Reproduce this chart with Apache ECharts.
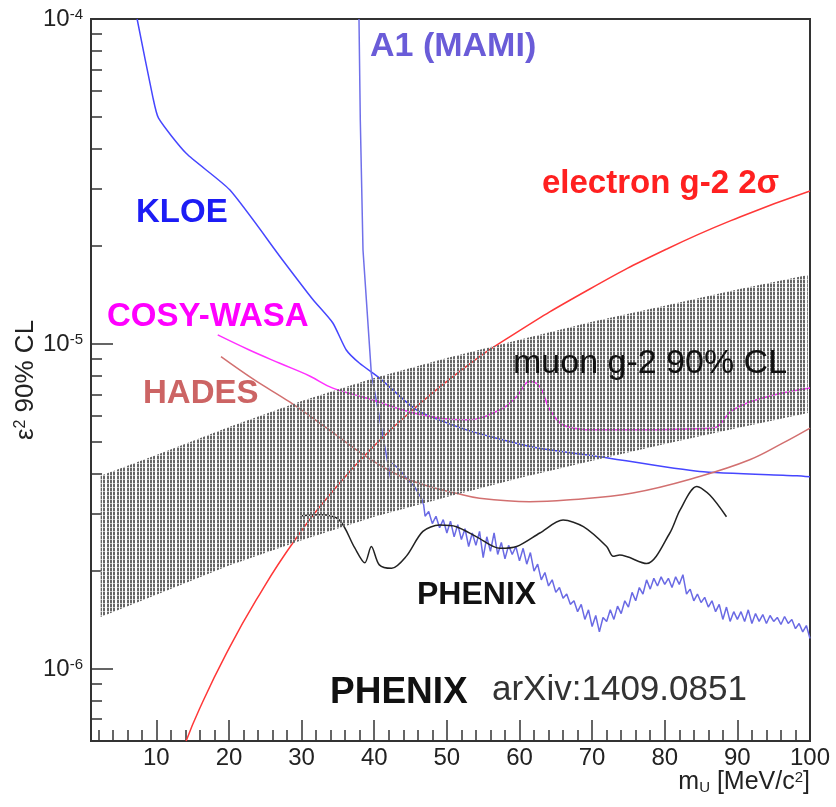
<!DOCTYPE html>
<html><head><meta charset="utf-8">
<script src="https://cdn.jsdelivr.net/npm/echarts@6/dist/echarts.min.js"></script>
<style>html,body{margin:0;padding:0;background:#fff}#c{width:836px;height:807px}</style>
</head><body><div id="c"></div>
<script>
// ---------- axis ticks ----------
const xTickLabels = [10, 20, 30, 40, 50, 60, 70, 80, 90, 100];
const xMinorTicks = [2,4,6,8,12,14,16,18,22,24,26,28,32,34,36,38,42,44,46,48,52,54,56,58,62,64,66,68,72,74,76,78,82,84,86,88,92,94,96,98];
const yTickValues = [1e-6, 1e-5, 1e-4];
const yMinorTicks = [7e-7,8e-7,9e-7,2e-6,3e-6,4e-6,5e-6,6e-6,7e-6,8e-6,9e-6,2e-5,3e-5,4e-5,5e-5,6e-5,7e-5,8e-5,9e-5];

// ---------- curves [mU, eps^2] ----------
const kloe = [[7.35,1.0e-4],[9.5,5.77e-5],[10.3,4.95e-5],[14.1,3.86e-5],[20.1,2.98e-5],[27.4,1.81e-5],[31.55,1.37e-5],[34.3,1.16e-5],[36.15,9.58e-6],[37.98,8.72e-6],[40.74,7.85e-6],[45.8,6.27e-6],[52.7,5.44e-6],[61.8,4.82e-6],[71.05,4.50e-6],[84.8,4.05e-6],[98.2,3.93e-6],[100,3.90e-6]];

const a1Steep = [[37.9,1.0e-4],[38.08,4.89e-5],[38.45,1.95e-5],[39.6,8.12e-6],[42.35,3.76e-6]];

const a1Scan = [[42.5,4.30e-6],[43.5,4.10e-6],[44.5,3.85e-6],[45.5,3.65e-6],[46.5,3.35e-6],[46.8,3.20e-6],
[47.0,2.95e-6],[47.5,3.05e-6],[48.0,2.80e-6],[48.5,2.95e-6],[49.0,2.72e-6],[49.5,2.88e-6],[50.0,2.62e-6],[50.5,2.85e-6],
[51.0,2.55e-6],[51.5,2.78e-6],[52.0,2.50e-6],[52.5,2.70e-6],[53.0,2.38e-6],[53.5,2.62e-6],[54.0,2.40e-6],[54.5,2.65e-6],
[55.0,2.20e-6],[55.5,2.55e-6],[56.0,2.30e-6],[56.5,2.62e-6],[57.0,2.25e-6],[57.5,2.45e-6],[58.0,2.18e-6],[58.5,2.40e-6],
[59.0,2.25e-6],[59.5,2.38e-6],[60.0,2.15e-6],[60.5,2.35e-6],[61.0,2.10e-6],[61.5,2.28e-6],[62.0,2.00e-6],[62.5,2.10e-6],
[63.0,1.88e-6],[63.5,1.98e-6],[64.0,1.80e-6],[64.5,1.88e-6],[65.0,1.72e-6],[65.5,1.78e-6],[66.0,1.65e-6],[66.5,1.70e-6],
[67.0,1.58e-6],[67.5,1.62e-6],[68.0,1.50e-6],[68.5,1.58e-6],[69.0,1.42e-6],[69.5,1.52e-6],[70.0,1.35e-6],[70.5,1.46e-6],
[71.0,1.30e-6],[71.5,1.44e-6],[72.0,1.40e-6],[72.5,1.52e-6],[73.0,1.42e-6],[73.5,1.56e-6],[74.0,1.48e-6],[74.5,1.62e-6],
[75.0,1.55e-6],[75.5,1.72e-6],[76.0,1.62e-6],[76.5,1.78e-6],[77.0,1.70e-6],[77.5,1.88e-6],[78.0,1.76e-6],[78.5,1.90e-6],
[79.0,1.80e-6],[79.5,1.92e-6],[80.0,1.82e-6],[80.5,1.90e-6],[81.0,1.78e-6],[81.5,1.92e-6],[82.0,1.82e-6],[82.5,1.95e-6],
[83.0,1.70e-6],[83.5,1.76e-6],[84.0,1.62e-6],[84.5,1.70e-6],[85.0,1.60e-6],[85.5,1.66e-6],[86.0,1.55e-6],[86.5,1.62e-6],
[87.0,1.50e-6],[87.5,1.58e-6],[88.0,1.42e-6],[88.5,1.55e-6],[89.0,1.40e-6],[89.5,1.50e-6],[90.0,1.42e-6],[90.5,1.50e-6],
[91.0,1.40e-6],[91.5,1.52e-6],[92.0,1.38e-6],[92.5,1.48e-6],[93.0,1.40e-6],[93.5,1.47e-6],[94.0,1.38e-6],[94.5,1.46e-6],
[95.0,1.40e-6],[95.5,1.44e-6],[96.0,1.37e-6],[96.5,1.45e-6],[97.0,1.38e-6],[97.5,1.42e-6],[98.0,1.33e-6],[98.5,1.38e-6],
[99.0,1.30e-6],[99.5,1.36e-6],[100.0,1.24e-6]];

const electronG2 = [[14.1,6.0e-7],[15.93,7.53e-7],[19.61,1.112e-6],[23.75,1.63e-6],[28.98,2.476e-6],[34.95,3.667e-6],[40.28,4.93e-6],[45.29,6.265e-6],[51.76,8.23e-6],[58.2,1.036e-5],[69.68,1.476e-5],[80.29,1.96e-5],[90.35,2.459e-5],[100,2.957e-5]];

const cosyWasa = [[18.45,1.066e-5],[22.8,9.58e-6],[27.0,8.72e-6],[31.1,7.97e-6],[34.3,7.31e-6],[38.9,6.82e-6],[46.0,6.09e-6],[52.7,5.84e-6],[57.3,6.27e-6],[59.6,6.88e-6],[61.4,7.66e-6],[62.8,7.39e-6],[64.2,6.27e-6],[66.5,5.57e-6],[71.1,5.44e-6],[75.6,5.44e-6],[86.6,5.51e-6],[89.4,6.27e-6],[94.0,6.87e-6],[100,7.32e-6]];

const hades = [[18.9,9.14e-6],[23.5,7.75e-6],[28.3,6.64e-6],[33.8,5.44e-6],[38.9,4.50e-6],[43.5,3.93e-6],[47.6,3.64e-6],[51.3,3.47e-6],[54.5,3.35e-6],[61.4,3.27e-6],[66.5,3.31e-6],[75.6,3.48e-6],[84.8,3.91e-6],[91.7,4.40e-6],[96.3,4.96e-6],[100,5.51e-6]];

const phenix = [[30.0,2.96e-6],[32.5,2.98e-6],[35.2,2.87e-6],[37.3,2.36e-6],[38.7,2.12e-6],[39.6,2.38e-6],[40.7,2.09e-6],[42.4,2.04e-6],[44.4,2.22e-6],[46.7,2.65e-6],[49.0,2.77e-6],[51.3,2.74e-6],[54.1,2.55e-6],[57.3,2.35e-6],[59.6,2.38e-6],[62.8,2.62e-6],[66.0,2.87e-6],[68.8,2.74e-6],[72.0,2.38e-6],[72.9,2.22e-6],[73.8,2.24e-6],[77.5,2.11e-6],[80.7,2.62e-6],[82.1,3.08e-6],[84.4,3.64e-6],[86.2,3.43e-6],[88.5,2.94e-6]];

// muon g-2 90% CL band
const muonBandX    = [2.33, 10, 20, 30, 40, 50, 60, 70, 80, 90, 99.7];
const muonBandLow  = [1.445e-6,1.69e-6,2.08e-6,2.49e-6,2.94e-6,3.38e-6,3.87e-6,4.37e-6,4.92e-6,5.51e-6,6.13e-6];
const muonBandHigh = [3.93e-6,4.55e-6,5.55e-6,6.68e-6,7.86e-6,9.06e-6,1.03e-5,1.17e-5,1.31e-5,1.47e-5,1.63e-5];

// ---------- rendering ----------
const FONT = '"Liberation Sans", Arial, Helvetica, sans-serif';
function makeHatch() {
  const c = document.createElement('canvas');
  c.width = 10; c.height = 4;
  const ctx = c.getContext('2d');
  ctx.fillStyle = '#666666';
  [0, 3, 7].forEach(x0 => ctx.fillRect(x0, 0, 2, 3));
  ctx.fillStyle = '#bdbdbd';
  [0, 3, 7].forEach(x0 => ctx.fillRect(x0, 3, 2, 1));
  return c;
}
const hatch = makeHatch();

const chart = echarts.init(document.getElementById('c'), null, {renderer: 'canvas'});
const tickStyle = {color: '#333', width: 1.5};
const lineSeries = (name, data, color, width, smooth) => ({
  name, type: 'line', data, symbol: 'none', smooth: smooth,
  lineStyle: {color, width}, itemStyle: {color}, z: 2, clip: true, silent: true
});

chart.setOption({
  animation: false,
  backgroundColor: '#fff',
  textStyle: {fontFamily: FONT},
  grid: {left: 91, right: 26, top: 19, bottom: 66, show: true, borderColor: '#333', borderWidth: 2, backgroundColor: 'transparent'},
  xAxis: [{
    type: 'value', min: 1, max: 100, position: 'bottom',
    axisLine: {show: true, onZero: false, lineStyle: {color: '#333', width: 2}},
    splitLine: {show: false},
    axisTick: {show: true, inside: true, length: 21, customValues: xTickLabels, lineStyle: tickStyle},
    axisLabel: {customValues: xTickLabels, fontSize: 24, color: '#222', margin: 5, fontFamily: FONT},
    name: 'm{sub|U} [MeV/c{sup|2}]', nameLocation: 'end', nameGap: 0, nameMoveOverlap: false,
    nameTextStyle: {fontSize: 25, color: '#222', fontFamily: FONT, align: 'right', verticalAlign: 'top', padding: [29, 0, 0, 0],
      rich: {sub: {fontSize: 15, verticalAlign: 'bottom', fontFamily: FONT, color: '#222'}, sup: {fontSize: 15, verticalAlign: 'top', fontFamily: FONT, color: '#222'}}}
  }, {
    type: 'value', min: 1, max: 100, position: 'bottom',
    axisLine: {show: false, onZero: false}, splitLine: {show: false}, axisLabel: {show: false},
    axisTick: {show: true, inside: true, length: 11, customValues: xMinorTicks, lineStyle: tickStyle}
  }],
  yAxis: [{
    type: 'log', logBase: 10, min: 6e-7, max: 1e-4, position: 'left',
    axisLine: {show: true, onZero: false, lineStyle: {color: '#333', width: 2}},
    splitLine: {show: false},
    axisTick: {show: true, inside: true, length: 22, customValues: yTickValues, lineStyle: tickStyle},
    axisLabel: {customValues: yTickValues, margin: 8, color: '#222', fontFamily: FONT,
      formatter: v => '{b|10}{s|' + Math.round(Math.log10(v)) + '}',
      rich: {b: {fontSize: 24, lineHeight: 24, fontFamily: FONT, color: '#222'}, s: {fontSize: 15, lineHeight: 15, verticalAlign: 'top', fontFamily: FONT, color: '#222'}}},
    name: 'ε{s|2} 90% CL', nameLocation: 'middle', nameRotate: 90, nameGap: 65, nameMoveOverlap: false,
    nameTextStyle: {fontSize: 26, color: '#222', fontFamily: FONT, verticalAlign: 'middle',
      rich: {s: {fontSize: 16, verticalAlign: 'top', fontFamily: FONT, color: '#222'}}}
  }, {
    type: 'log', logBase: 10, min: 6e-7, max: 1e-4, position: 'left',
    axisLine: {show: false, onZero: false}, splitLine: {show: false}, axisLabel: {show: false},
    axisTick: {show: true, inside: true, length: 11, customValues: yMinorTicks, lineStyle: tickStyle}
  }],
  series: [
    lineSeries('KLOE', kloe, '#4646ff', 1.5, 0.2),
    lineSeries('A1 (MAMI)', a1Steep, '#7070ea', 1.5, false),
    lineSeries('A1 (MAMI) scan', a1Scan, '#6a6ae4', 1.5, false),
    lineSeries('electron g-2 2σ', electronG2, '#ff3838', 1.5, 0.5),
    lineSeries('COSY-WASA', cosyWasa, '#ff30ff', 1.5, 0.4),
    lineSeries('HADES', hades, '#d27070', 1.5, 0.4),
    lineSeries('PHENIX', phenix, '#222', 1.5, 0.3),
    {
      name: 'muon g-2 90% CL', type: 'custom', coordinateSystem: 'cartesian2d', xAxisIndex: 0, yAxisIndex: 0,
      data: muonBandX.map((x, i) => [x, muonBandLow[i], muonBandHigh[i]]),
      encode: {x: 0, y: [1, 2]}, z: 4, silent: true,
      renderItem: (params, api) => {
        if (params.dataIndex !== 0) return null;
        const pts = [];
        for (let i = 0; i < muonBandX.length; i++) pts.push(api.coord([muonBandX[i], muonBandHigh[i]]));
        for (let i = muonBandX.length - 1; i >= 0; i--) pts.push(api.coord([muonBandX[i], muonBandLow[i]]));
        return {type: 'polygon', shape: {points: pts}, style: {fill: {image: hatch, repeat: 'repeat'}, stroke: null}};
      }
    }
  ],
  graphic: [
    {type: 'text', x: 370, y: 47, z: 20, style: {text: 'A1 (MAMI)', font: 'bold 34px ' + FONT, fill: '#6a5cd8', align: 'left', verticalAlign: 'middle'}},
    {type: 'text', x: 136, y: 213, z: 20, style: {text: 'KLOE', font: 'bold 33px ' + FONT, fill: '#1c1cf5', align: 'left', verticalAlign: 'middle'}},
    {type: 'text', x: 542, y: 184, z: 20, style: {text: 'electron g-2 2σ', font: 'bold 33px ' + FONT, fill: '#ff2020', align: 'left', verticalAlign: 'middle'}},
    {type: 'text', x: 107, y: 317, z: 20, style: {text: 'COSY-WASA', font: 'bold 33px ' + FONT, fill: '#ff00ff', align: 'left', verticalAlign: 'middle'}},
    {type: 'text', x: 143, y: 394, z: 20, style: {text: 'HADES', font: 'bold 33px ' + FONT, fill: '#cc6464', align: 'left', verticalAlign: 'middle'}},
    {type: 'text', x: 513, y: 364, z: 20, style: {text: 'muon g-2 90% CL', font: '34px ' + FONT, fill: '#111', align: 'left', verticalAlign: 'middle'}},
    {type: 'text', x: 417, y: 595, z: 20, style: {text: 'PHENIX', font: 'bold 32px ' + FONT, fill: '#111', align: 'left', verticalAlign: 'middle'}},
    {type: 'text', x: 330, y: 693, z: 20, style: {text: 'PHENIX', font: 'bold 37px ' + FONT, fill: '#111', align: 'left', verticalAlign: 'middle'}},
    {type: 'text', x: 492, y: 690, z: 20, style: {text: 'arXiv:1409.0851', font: '35px ' + FONT, fill: '#333', align: 'left', verticalAlign: 'middle'}}
  ]
});
</script>
</body></html>
